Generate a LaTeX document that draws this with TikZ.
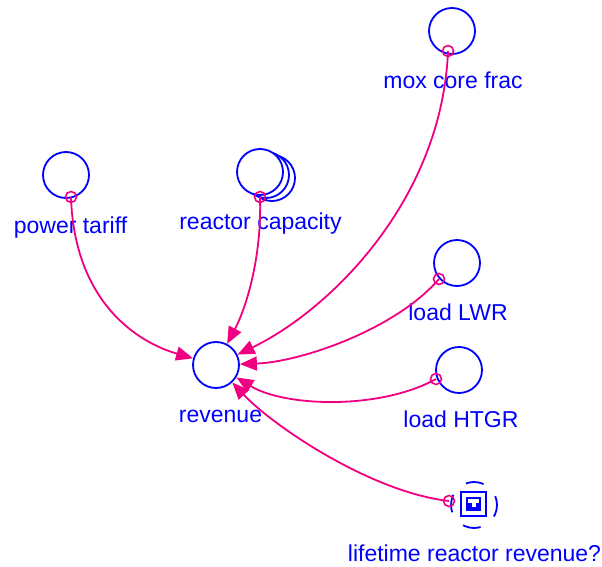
\documentclass[tikz,border=0pt]{standalone}
\usepackage{fontspec}
\setmainfont{Liberation Sans}
\usetikzlibrary{arrows.meta}
\definecolor{vblue}{RGB}{0,0,255}
\definecolor{vpink}{RGB}{240,0,128}
\begin{document}
\begin{tikzpicture}[x=1pt,y=-1pt,
 var/.style={circle, draw=vblue, line width=1.8pt, minimum size=46pt, inner sep=0pt},
 lbl/.style={text=vblue, font=\fontsize{23}{27}\selectfont, anchor=base, inner sep=0pt},
 pin/.style={circle, draw=vpink, line width=1.6pt, minimum size=11pt, inner sep=0pt},
 link/.style={draw=vpink, line width=1.8pt, -{Triangle[length=17pt,width=14pt]}}]
\useasboundingbox (0,0) rectangle (602,567);
% variables
\node[var] (pt) at (66,175) {};
\node[lbl] (ptl) at (70.5,233.5) {power tariff};
\node[var, fill=white] (rc3) at (272,178) {};
\node[var, fill=white] (rc2) at (266,175) {};
\node[var, fill=white] (rc) at (260,172) {};
\node[lbl] (rcl) at (260.5,229.5) {reactor capacity};
\node[var] (mox) at (452,31) {};
\node[lbl] (moxl) at (453,88.5) {mox core frac};
\node[var] (lwr) at (457,263) {};
\node[lbl] (lwrl) at (458,320.5) {load LWR};
\node[var] (htgr) at (459,370) {};
\node[lbl] (htgrl) at (461,427.5) {load HTGR};
\node[var] (rev) at (216,365) {};
\node[lbl] (revl) at (220.5,422) {revenue};
\node[var, dash pattern=on 18pt off 17.3pt, dash phase=9pt] (lrr) at (474,505) {};
\node[lbl] (lrrl) at (474.5,561.5) {lifetime reactor revenue?};
% lookup icon
\draw[vblue, line width=2pt] (461,492) rectangle (485.5,515.5);
\fill[vblue] (466,497) rectangle (481,511);
\fill[white] (467.7,499.3) rectangle (479.3,502.5);
\fill[white] (471.7,502) rectangle (475.7,507.3);
% pins
\node[pin] (ptp) at (71,197) {};
\node[pin] (rcp) at (260,197) {};
\node[pin] (moxp) at (448,51) {};
\node[pin] (lwrp) at (439,279) {};
\node[pin] (htgrp) at (436,379) {};
\node[pin] (lrrp) at (449,501) {};
% links
\draw[link] (ptp.center) .. controls (74,295) and (130,340) .. (rev);
\draw[link] (rcp.center) .. controls (262,260) and (245,310) .. (rev);
\draw[link] (moxp.center) .. controls (442,200) and (330,310) .. (rev);
\draw[link] (lwrp.center) .. controls (395,330) and (300,362) .. (rev);
\draw[link] (htgrp.center) .. controls (380,410) and (285,407) .. (rev);
\draw[link] (lrrp.center) .. controls (370,492) and (272,425) .. (rev);
\end{tikzpicture}
\end{document}
